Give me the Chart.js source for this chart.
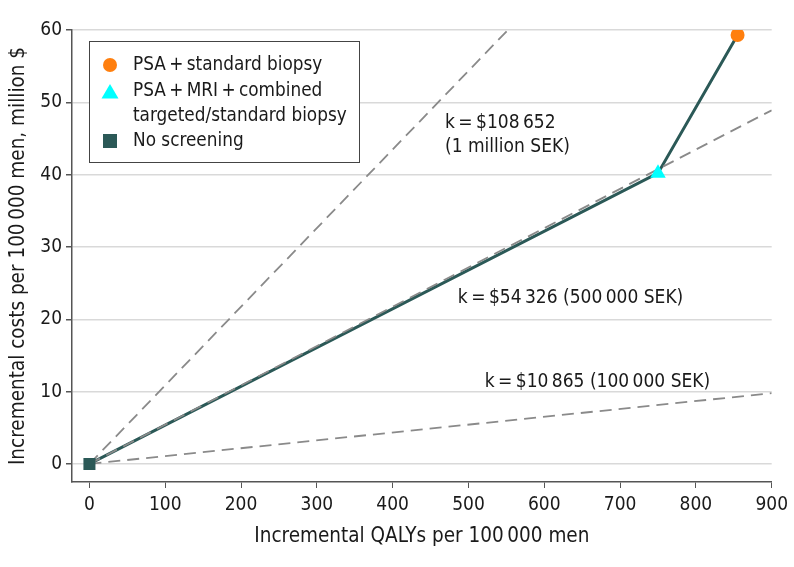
<!DOCTYPE html>
<html>
<head>
<meta charset="utf-8">
<script src="https://cdn.jsdelivr.net/npm/chart.js@4.4.1/dist/chart.umd.min.js"></script>
<style>
html,body{margin:0;padding:0;background:#fff;}
#wrap{width:794px;height:567px;position:relative;}
</style>
</head>
<body>
<div id="wrap"><canvas id="c" width="794" height="567"></canvas></div>
<script>
// ---- data ----
const strategyNames = ['No screening', 'PSA\u2009+\u2009MRI\u2009+\u2009combined targeted/standard biopsy', 'PSA\u2009+\u2009standard biopsy'];
const strategyQALYs = [0, 750, 855];
const strategyCosts = [0, 40.2, 59.3];

// willingness-to-pay reference lines (end points)
const wtpLabels = ['k\u2009=\u2009$108\u2009652', 'k\u2009=\u2009$54\u2009326 (500\u2009000 SEK)', 'k\u2009=\u2009$10\u2009865 (100\u2009000 SEK)'];
const wtpEndQALY = [552, 900, 900];
const wtpEndCost = [60, 48.9, 9.78];

const xTicks = [0, 100, 200, 300, 400, 500, 600, 700, 800, 900];
const yTicks = [0, 10, 20, 30, 40, 50, 60];

const FONT = "'DejaVu Sans Condensed', 'Liberation Sans Narrow', 'Liberation Sans', sans-serif";
const TEAL = '#2b5957';
const DASH = '#8a8a8a';

const mainLine = strategyQALYs.map((x, i) => ({x: x, y: strategyCosts[i]}));
const wtpSets = wtpEndQALY.map((x, i) => ({
  type: 'line', label: 'wtp' + i,
  data: [{x: 0, y: 0}, {x: x, y: wtpEndCost[i]}],
  borderColor: DASH, borderWidth: 1.8, borderDash: [12, 7],
  pointRadius: 0, fill: false, order: 1
}));

const annotations = [
  {lines: [wtpLabels[0], '(1 million SEK)'], x: 469, y: 47.2, dy: 24},
  {lines: [wtpLabels[1]], x: 486, y: 23.0, dy: 0},
  {lines: [wtpLabels[2]], x: 521.5, y: 11.35, dy: 0}
];

const overlay = {
  id: 'overlay',
  afterDatasetsDraw(chart) {
    const ctx = chart.ctx, xs = chart.scales.x, ys = chart.scales.y;
    ctx.save();
    ctx.fillStyle = '#1a1a1a';
    ctx.font = '19px ' + FONT;
    ctx.textAlign = 'left';
    ctx.textBaseline = 'middle';
    annotations.forEach(a => {
      const px = xs.getPixelForValue(a.x), py = ys.getPixelForValue(a.y);
      a.lines.forEach((t, k) => ctx.fillText(t, px, py + k * a.dy));
    });
    // legend box
    const L = 89.5, T = 41.5, W = 270, H = 121;
    ctx.fillStyle = '#fff';
    ctx.fillRect(L, T, W, H);
    ctx.strokeStyle = '#444';
    ctx.lineWidth = 1;
    ctx.strokeRect(L, T, W, H);
    // items
    const mx = 110, tx = 133;
    ctx.fillStyle = '#ff7f0e';
    ctx.beginPath(); ctx.arc(mx, 65, 7, 0, Math.PI * 2); ctx.fill();
    ctx.fillStyle = '#00ffff';
    ctx.beginPath(); ctx.moveTo(mx, 84); ctx.lineTo(mx + 8.5, 98.5); ctx.lineTo(mx - 8.5, 98.5); ctx.closePath(); ctx.fill();
    ctx.fillStyle = TEAL;
    ctx.fillRect(mx - 7, 134, 14, 14);
    ctx.fillStyle = '#1a1a1a';
    ctx.font = '18.8px ' + FONT;
    ctx.fillText('PSA\u2009+\u2009standard biopsy', tx, 65);
    ctx.fillText('PSA\u2009+\u2009MRI\u2009+\u2009combined', tx, 91);
    ctx.fillText('targeted/standard biopsy', tx, 116);
    ctx.fillText('No screening', tx, 141);
    ctx.restore();
  }
};

new Chart(document.getElementById('c'), {
  type: 'scatter',
  data: {
    datasets: [
      {type: 'scatter', label: strategyNames[2], data: [mainLine[2]], pointStyle: 'circle', pointRadius: 7, pointHoverRadius: 7, backgroundColor: '#ff7f0e', borderWidth: 0, order: 0},
      {type: 'scatter', label: strategyNames[1], data: [mainLine[1]], pointStyle: 'triangle', pointRadius: 9, pointHoverRadius: 9, backgroundColor: '#00ffff', borderWidth: 0, order: 0},
      {type: 'scatter', label: strategyNames[0], data: [mainLine[0]], pointStyle: 'rect', pointRadius: 8.5, pointHoverRadius: 8.5, backgroundColor: TEAL, borderWidth: 0, order: 0},
      ...wtpSets,
      {type: 'line', label: 'frontier', data: mainLine, borderColor: TEAL, borderWidth: 3, pointRadius: 0, fill: false, order: 2}
    ]
  },
  options: {
    responsive: false,
    animation: false,
    devicePixelRatio: 1,
    layout: {padding: {left: 0, right: 22, top: 30, bottom: 0}},
    plugins: {legend: {display: false}, tooltip: {enabled: false}},
    scales: {
      x: {
        type: 'linear', min: -23, max: 900,
        afterBuildTicks: s => { s.ticks = xTicks.map(v => ({value: v})); },
        afterFit: s => { s.height = 85; },
        border: {display: true, color: '#555', width: 1.5},
        grid: {display: true, color: 'rgba(0,0,0,0)', tickColor: '#555', tickLength: 6, drawOnChartArea: false},
        ticks: {color: '#1a1a1a', font: {family: FONT, size: 19}, padding: 6, maxRotation: 0},
        title: {display: true, text: 'Incremental QALYs per 100\u2009000 men', color: '#1a1a1a', font: {family: FONT, size: 20.5}, padding: {top: 4, bottom: 18}}
      },
      y: {
        type: 'linear', min: -2.5, max: 60,
        afterBuildTicks: s => { s.ticks = yTicks.map(v => ({value: v})); },
        afterFit: s => { s.width = 72; },
        border: {display: true, color: '#555', width: 1.5},
        grid: {display: true, color: '#d9d9d9', lineWidth: 1.5, tickColor: '#555', tickLength: 6},
        ticks: {color: '#1a1a1a', font: {family: FONT, size: 19}, padding: 4},
        title: {display: true, text: 'Incremental costs per 100\u2009000 men, million $', color: '#1a1a1a', font: {family: FONT, size: 20.5}, padding: {top: 6, bottom: 6}}
      }
    }
  },
  plugins: [overlay]
});
</script>
</body>
</html>
